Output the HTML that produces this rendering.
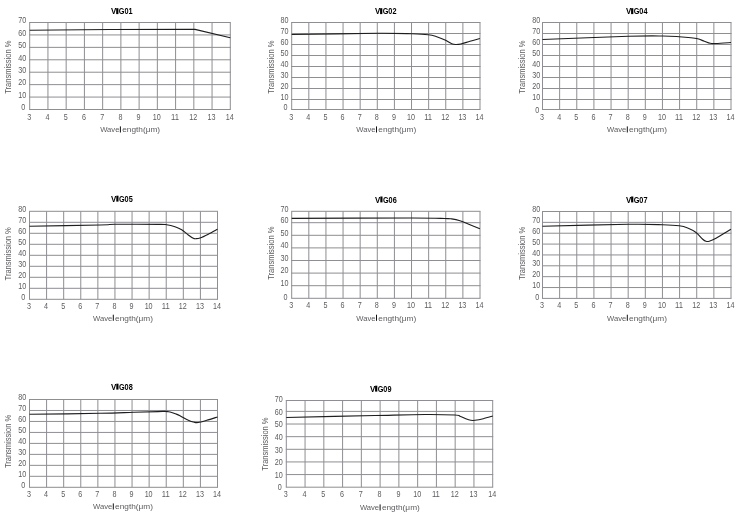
<!DOCTYPE html>
<html><head><meta charset="utf-8"><title>Transmission curves</title>
<style>
html,body{margin:0;padding:0;background:#fff;}
body{width:745px;height:528px;overflow:hidden;font-family:"Liberation Sans",sans-serif;}
svg{display:block;will-change:transform;}
text{font-family:"Liberation Sans",sans-serif;}
.g{stroke:#8e8e93;stroke-width:1;fill:none;}
.c{stroke:#1e1e1e;stroke-width:1.15;fill:none;stroke-linejoin:round;stroke-linecap:butt;}
.t{font-size:8.3px;fill:#5c5c60;}
.x{font-size:8px;fill:#5c5c60;}
.y{font-size:8.3px;fill:#5c5c60;}
.h{font-size:8.6px;font-weight:bold;fill:#000;}
</style></head><body>
<svg width="745" height="528" viewBox="0 0 745 528">
<rect width="745" height="528" fill="#fff"/>

<g><!-- VIG01 -->
<path class="g" d="M29.20 109.50 H230.80 M29.20 97.07 H230.80 M29.20 84.64 H230.80 M29.20 72.21 H230.80 M29.20 59.79 H230.80 M29.20 47.36 H230.80 M29.20 34.93 H230.80 M29.20 22.50 H230.80 M29.70 22.50 V109.50 M47.94 22.50 V109.50 M66.17 22.50 V109.50 M84.41 22.50 V109.50 M102.65 22.50 V109.50 M120.88 22.50 V109.50 M139.12 22.50 V109.50 M157.35 22.50 V109.50 M175.59 22.50 V109.50 M193.83 22.50 V109.50 M212.06 22.50 V109.50 M230.30 22.50 V109.50"/>
<path class="c" d="M29.70 30.30 L110.00 29.50 L190.00 29.30 L195.00 29.40 L230.30 37.70"/>
<text class="t" text-anchor="end" textLength="4.00" lengthAdjust="spacingAndGlyphs" x="25.30" y="110.25">0</text>
<text class="t" text-anchor="end" textLength="8.00" lengthAdjust="spacingAndGlyphs" x="26.20" y="97.82">10</text>
<text class="t" text-anchor="end" textLength="8.00" lengthAdjust="spacingAndGlyphs" x="26.20" y="85.39">20</text>
<text class="t" text-anchor="end" textLength="8.00" lengthAdjust="spacingAndGlyphs" x="26.20" y="72.96">30</text>
<text class="t" text-anchor="end" textLength="8.00" lengthAdjust="spacingAndGlyphs" x="26.20" y="60.54">40</text>
<text class="t" text-anchor="end" textLength="8.00" lengthAdjust="spacingAndGlyphs" x="26.20" y="48.11">50</text>
<text class="t" text-anchor="end" textLength="8.00" lengthAdjust="spacingAndGlyphs" x="26.20" y="35.68">60</text>
<text class="t" text-anchor="end" textLength="8.00" lengthAdjust="spacingAndGlyphs" x="26.20" y="23.25">70</text>
<text class="t" text-anchor="middle" textLength="4.00" lengthAdjust="spacingAndGlyphs" x="29.20" y="120.25">3</text>
<text class="t" text-anchor="middle" textLength="4.00" lengthAdjust="spacingAndGlyphs" x="47.44" y="120.25">4</text>
<text class="t" text-anchor="middle" textLength="4.00" lengthAdjust="spacingAndGlyphs" x="65.67" y="120.25">5</text>
<text class="t" text-anchor="middle" textLength="4.00" lengthAdjust="spacingAndGlyphs" x="83.91" y="120.25">6</text>
<text class="t" text-anchor="middle" textLength="4.00" lengthAdjust="spacingAndGlyphs" x="102.15" y="120.25">7</text>
<text class="t" text-anchor="middle" textLength="4.00" lengthAdjust="spacingAndGlyphs" x="120.38" y="120.25">8</text>
<text class="t" text-anchor="middle" textLength="4.00" lengthAdjust="spacingAndGlyphs" x="138.62" y="120.25">9</text>
<text class="t" text-anchor="middle" textLength="8.00" lengthAdjust="spacingAndGlyphs" x="156.85" y="120.25">10</text>
<text class="t" text-anchor="middle" textLength="8.00" lengthAdjust="spacingAndGlyphs" x="175.09" y="120.25">11</text>
<text class="t" text-anchor="middle" textLength="8.00" lengthAdjust="spacingAndGlyphs" x="193.33" y="120.25">12</text>
<text class="t" text-anchor="middle" textLength="8.00" lengthAdjust="spacingAndGlyphs" x="211.56" y="120.25">13</text>
<text class="t" text-anchor="middle" textLength="8.00" lengthAdjust="spacingAndGlyphs" x="229.80" y="120.25">14</text>
<text class="h" text-anchor="end" textLength="5.3" lengthAdjust="spacingAndGlyphs" x="116.30" y="14.20">V</text>
<text class="h" textLength="13.8" lengthAdjust="spacingAndGlyphs" x="118.80" y="14.20">G01</text>
<text class="x" textLength="19.2" lengthAdjust="spacingAndGlyphs" x="100.20" y="132.20">Wave</text>
<text class="x" textLength="37.9" lengthAdjust="spacingAndGlyphs" x="122.20" y="132.20">ength(μm)</text>
<rect x="119.90" y="126.40" width="1.0" height="6.1" fill="#111"/>
<rect x="116.20" y="8.20" width="2.2" height="5.9" fill="#000"/>
<text class="y" text-anchor="middle" textLength="53.2" lengthAdjust="spacingAndGlyphs" transform="translate(11.00 67.20) rotate(-90)" x="0" y="0">Transmission %</text>
</g>
<g><!-- VIG02 -->
<path class="g" d="M291.20 109.50 H480.50 M291.20 99.50 H480.50 M291.20 88.50 H480.50 M291.20 77.50 H480.50 M291.20 66.50 H480.50 M291.20 55.50 H480.50 M291.20 44.50 H480.50 M291.20 33.50 H480.50 M291.20 22.50 H480.50 M291.70 22.50 V109.50 M308.82 22.50 V109.50 M325.94 22.50 V109.50 M343.05 22.50 V109.50 M360.17 22.50 V109.50 M377.29 22.50 V109.50 M394.41 22.50 V109.50 M411.53 22.50 V109.50 M428.65 22.50 V109.50 M445.76 22.50 V109.50 M462.88 22.50 V109.50 M480.00 22.50 V109.50"/>
<path class="c" d="M291.70 34.50 C306.03 34.30 357.70 33.42 377.70 33.30 C397.70 33.18 403.27 33.57 411.70 33.80 C420.13 34.03 424.13 34.22 428.30 34.70 C432.47 35.18 433.92 35.82 436.70 36.70 C439.48 37.58 442.50 38.83 445.00 40.00 C447.50 41.17 449.90 42.95 451.70 43.70 C453.50 44.45 454.28 44.45 455.80 44.50 C457.32 44.55 458.43 44.53 460.80 44.00 C463.17 43.47 466.82 42.22 470.00 41.30 C473.18 40.38 478.25 38.97 479.90 38.50"/>
<text class="t" text-anchor="end" textLength="4.00" lengthAdjust="spacingAndGlyphs" x="287.60" y="109.85">0</text>
<text class="t" text-anchor="end" textLength="8.00" lengthAdjust="spacingAndGlyphs" x="288.50" y="99.85">10</text>
<text class="t" text-anchor="end" textLength="8.00" lengthAdjust="spacingAndGlyphs" x="288.50" y="88.85">20</text>
<text class="t" text-anchor="end" textLength="8.00" lengthAdjust="spacingAndGlyphs" x="288.50" y="77.85">30</text>
<text class="t" text-anchor="end" textLength="8.00" lengthAdjust="spacingAndGlyphs" x="288.50" y="66.85">40</text>
<text class="t" text-anchor="end" textLength="8.00" lengthAdjust="spacingAndGlyphs" x="288.50" y="55.85">50</text>
<text class="t" text-anchor="end" textLength="8.00" lengthAdjust="spacingAndGlyphs" x="288.50" y="44.85">60</text>
<text class="t" text-anchor="end" textLength="8.00" lengthAdjust="spacingAndGlyphs" x="288.50" y="33.85">70</text>
<text class="t" text-anchor="end" textLength="8.00" lengthAdjust="spacingAndGlyphs" x="288.50" y="22.85">80</text>
<text class="t" text-anchor="middle" textLength="4.00" lengthAdjust="spacingAndGlyphs" x="291.20" y="120.25">3</text>
<text class="t" text-anchor="middle" textLength="4.00" lengthAdjust="spacingAndGlyphs" x="308.32" y="120.25">4</text>
<text class="t" text-anchor="middle" textLength="4.00" lengthAdjust="spacingAndGlyphs" x="325.44" y="120.25">5</text>
<text class="t" text-anchor="middle" textLength="4.00" lengthAdjust="spacingAndGlyphs" x="342.55" y="120.25">6</text>
<text class="t" text-anchor="middle" textLength="4.00" lengthAdjust="spacingAndGlyphs" x="359.67" y="120.25">7</text>
<text class="t" text-anchor="middle" textLength="4.00" lengthAdjust="spacingAndGlyphs" x="376.79" y="120.25">8</text>
<text class="t" text-anchor="middle" textLength="4.00" lengthAdjust="spacingAndGlyphs" x="393.91" y="120.25">9</text>
<text class="t" text-anchor="middle" textLength="8.00" lengthAdjust="spacingAndGlyphs" x="411.03" y="120.25">10</text>
<text class="t" text-anchor="middle" textLength="8.00" lengthAdjust="spacingAndGlyphs" x="428.15" y="120.25">11</text>
<text class="t" text-anchor="middle" textLength="8.00" lengthAdjust="spacingAndGlyphs" x="445.26" y="120.25">12</text>
<text class="t" text-anchor="middle" textLength="8.00" lengthAdjust="spacingAndGlyphs" x="462.38" y="120.25">13</text>
<text class="t" text-anchor="middle" textLength="8.00" lengthAdjust="spacingAndGlyphs" x="479.50" y="120.25">14</text>
<text class="h" text-anchor="end" textLength="5.3" lengthAdjust="spacingAndGlyphs" x="380.20" y="14.20">V</text>
<text class="h" textLength="13.8" lengthAdjust="spacingAndGlyphs" x="382.70" y="14.20">G02</text>
<text class="x" textLength="19.2" lengthAdjust="spacingAndGlyphs" x="356.30" y="132.20">Wave</text>
<text class="x" textLength="37.9" lengthAdjust="spacingAndGlyphs" x="378.30" y="132.20">ength(μm)</text>
<rect x="376.00" y="126.40" width="1.0" height="6.1" fill="#111"/>
<rect x="380.10" y="8.20" width="2.2" height="5.9" fill="#000"/>
<text class="y" text-anchor="middle" textLength="53.2" lengthAdjust="spacingAndGlyphs" transform="translate(273.50 67.20) rotate(-90)" x="0" y="0">Transmission %</text>
</g>
<g><!-- VIG04 -->
<path class="g" d="M542.00 109.50 H731.50 M542.00 99.50 H731.50 M542.00 88.50 H731.50 M542.00 77.50 H731.50 M542.00 66.50 H731.50 M542.00 55.50 H731.50 M542.00 44.50 H731.50 M542.00 33.50 H731.50 M542.00 22.50 H731.50 M542.50 22.50 V109.50 M559.64 22.50 V109.50 M576.77 22.50 V109.50 M593.91 22.50 V109.50 M611.05 22.50 V109.50 M628.18 22.50 V109.50 M645.32 22.50 V109.50 M662.45 22.50 V109.50 M679.59 22.50 V109.50 M696.73 22.50 V109.50 M713.86 22.50 V109.50 M731.00 22.50 V109.50"/>
<path class="c" d="M542.50 39.50 C556.83 38.97 608.47 36.88 628.50 36.30 C648.53 35.72 654.23 35.93 662.70 36.00 C671.17 36.07 674.58 36.42 679.30 36.70 C684.02 36.98 687.93 37.35 691.00 37.70 C694.07 38.05 695.48 38.22 697.70 38.80 C699.92 39.38 702.22 40.45 704.30 41.20 C706.38 41.95 708.25 42.92 710.20 43.30 C712.15 43.68 712.53 43.63 716.00 43.50 C719.47 43.37 728.50 42.67 731.00 42.50"/>
<text class="t" text-anchor="end" textLength="4.00" lengthAdjust="spacingAndGlyphs" x="539.30" y="112.95">0</text>
<text class="t" text-anchor="end" textLength="8.00" lengthAdjust="spacingAndGlyphs" x="540.20" y="99.75">10</text>
<text class="t" text-anchor="end" textLength="8.00" lengthAdjust="spacingAndGlyphs" x="540.20" y="88.75">20</text>
<text class="t" text-anchor="end" textLength="8.00" lengthAdjust="spacingAndGlyphs" x="540.20" y="77.75">30</text>
<text class="t" text-anchor="end" textLength="8.00" lengthAdjust="spacingAndGlyphs" x="540.20" y="66.75">40</text>
<text class="t" text-anchor="end" textLength="8.00" lengthAdjust="spacingAndGlyphs" x="540.20" y="55.75">50</text>
<text class="t" text-anchor="end" textLength="8.00" lengthAdjust="spacingAndGlyphs" x="540.20" y="44.75">60</text>
<text class="t" text-anchor="end" textLength="8.00" lengthAdjust="spacingAndGlyphs" x="540.20" y="33.75">70</text>
<text class="t" text-anchor="end" textLength="8.00" lengthAdjust="spacingAndGlyphs" x="540.20" y="22.75">80</text>
<text class="t" text-anchor="middle" textLength="4.00" lengthAdjust="spacingAndGlyphs" x="542.00" y="120.25">3</text>
<text class="t" text-anchor="middle" textLength="4.00" lengthAdjust="spacingAndGlyphs" x="559.14" y="120.25">4</text>
<text class="t" text-anchor="middle" textLength="4.00" lengthAdjust="spacingAndGlyphs" x="576.27" y="120.25">5</text>
<text class="t" text-anchor="middle" textLength="4.00" lengthAdjust="spacingAndGlyphs" x="593.41" y="120.25">6</text>
<text class="t" text-anchor="middle" textLength="4.00" lengthAdjust="spacingAndGlyphs" x="610.55" y="120.25">7</text>
<text class="t" text-anchor="middle" textLength="4.00" lengthAdjust="spacingAndGlyphs" x="627.68" y="120.25">8</text>
<text class="t" text-anchor="middle" textLength="4.00" lengthAdjust="spacingAndGlyphs" x="644.82" y="120.25">9</text>
<text class="t" text-anchor="middle" textLength="8.00" lengthAdjust="spacingAndGlyphs" x="661.95" y="120.25">10</text>
<text class="t" text-anchor="middle" textLength="8.00" lengthAdjust="spacingAndGlyphs" x="679.09" y="120.25">11</text>
<text class="t" text-anchor="middle" textLength="8.00" lengthAdjust="spacingAndGlyphs" x="696.23" y="120.25">12</text>
<text class="t" text-anchor="middle" textLength="8.00" lengthAdjust="spacingAndGlyphs" x="713.36" y="120.25">13</text>
<text class="t" text-anchor="middle" textLength="8.00" lengthAdjust="spacingAndGlyphs" x="730.50" y="120.25">14</text>
<text class="h" text-anchor="end" textLength="5.3" lengthAdjust="spacingAndGlyphs" x="631.20" y="14.20">V</text>
<text class="h" textLength="13.8" lengthAdjust="spacingAndGlyphs" x="633.70" y="14.20">G04</text>
<text class="x" textLength="19.2" lengthAdjust="spacingAndGlyphs" x="607.10" y="132.20">Wave</text>
<text class="x" textLength="37.9" lengthAdjust="spacingAndGlyphs" x="629.10" y="132.20">ength(μm)</text>
<rect x="626.80" y="126.40" width="1.0" height="6.1" fill="#111"/>
<rect x="631.10" y="8.20" width="2.2" height="5.9" fill="#000"/>
<text class="y" text-anchor="middle" textLength="53.2" lengthAdjust="spacingAndGlyphs" transform="translate(524.50 67.20) rotate(-90)" x="0" y="0">Transmission %</text>
</g>
<g><!-- VIG05 -->
<path class="g" d="M29.00 299.30 H218.00 M29.00 288.30 H218.00 M29.00 277.30 H218.00 M29.00 266.30 H218.00 M29.00 255.30 H218.00 M29.00 244.30 H218.00 M29.00 233.30 H218.00 M29.00 222.30 H218.00 M29.00 211.30 H218.00 M29.50 211.30 V299.30 M46.59 211.30 V299.30 M63.68 211.30 V299.30 M80.77 211.30 V299.30 M97.86 211.30 V299.30 M114.95 211.30 V299.30 M132.05 211.30 V299.30 M149.14 211.30 V299.30 M166.23 211.30 V299.30 M183.32 211.30 V299.30 M200.41 211.30 V299.30 M217.50 211.30 V299.30"/>
<path class="c" d="M29.50 226.30 C41.25 226.08 85.75 225.33 100.00 225.00 C114.25 224.67 105.28 224.42 115.00 224.30 C124.72 224.18 149.68 224.23 158.30 224.30 C166.92 224.37 163.92 224.30 166.70 224.70 C169.48 225.10 172.50 225.87 175.00 226.70 C177.50 227.53 179.48 228.32 181.70 229.70 C183.92 231.08 186.37 233.57 188.30 235.00 C190.23 236.43 192.05 237.68 193.30 238.30 C194.55 238.92 194.68 238.75 195.80 238.70 C196.92 238.65 197.92 238.75 200.00 238.00 C202.08 237.25 205.38 235.67 208.30 234.20 C211.22 232.73 215.97 230.03 217.50 229.20"/>
<text class="t" text-anchor="end" textLength="4.00" lengthAdjust="spacingAndGlyphs" x="25.30" y="300.35">0</text>
<text class="t" text-anchor="end" textLength="8.00" lengthAdjust="spacingAndGlyphs" x="26.20" y="289.35">10</text>
<text class="t" text-anchor="end" textLength="8.00" lengthAdjust="spacingAndGlyphs" x="26.20" y="278.35">20</text>
<text class="t" text-anchor="end" textLength="8.00" lengthAdjust="spacingAndGlyphs" x="26.20" y="267.35">30</text>
<text class="t" text-anchor="end" textLength="8.00" lengthAdjust="spacingAndGlyphs" x="26.20" y="256.35">40</text>
<text class="t" text-anchor="end" textLength="8.00" lengthAdjust="spacingAndGlyphs" x="26.20" y="245.35">50</text>
<text class="t" text-anchor="end" textLength="8.00" lengthAdjust="spacingAndGlyphs" x="26.20" y="234.35">60</text>
<text class="t" text-anchor="end" textLength="8.00" lengthAdjust="spacingAndGlyphs" x="26.20" y="223.35">70</text>
<text class="t" text-anchor="end" textLength="8.00" lengthAdjust="spacingAndGlyphs" x="26.20" y="212.35">80</text>
<text class="t" text-anchor="middle" textLength="4.00" lengthAdjust="spacingAndGlyphs" x="29.00" y="309.15">3</text>
<text class="t" text-anchor="middle" textLength="4.00" lengthAdjust="spacingAndGlyphs" x="46.09" y="309.15">4</text>
<text class="t" text-anchor="middle" textLength="4.00" lengthAdjust="spacingAndGlyphs" x="63.18" y="309.15">5</text>
<text class="t" text-anchor="middle" textLength="4.00" lengthAdjust="spacingAndGlyphs" x="80.27" y="309.15">6</text>
<text class="t" text-anchor="middle" textLength="4.00" lengthAdjust="spacingAndGlyphs" x="97.36" y="309.15">7</text>
<text class="t" text-anchor="middle" textLength="4.00" lengthAdjust="spacingAndGlyphs" x="114.45" y="309.15">8</text>
<text class="t" text-anchor="middle" textLength="4.00" lengthAdjust="spacingAndGlyphs" x="131.55" y="309.15">9</text>
<text class="t" text-anchor="middle" textLength="8.00" lengthAdjust="spacingAndGlyphs" x="148.64" y="309.15">10</text>
<text class="t" text-anchor="middle" textLength="8.00" lengthAdjust="spacingAndGlyphs" x="165.73" y="309.15">11</text>
<text class="t" text-anchor="middle" textLength="8.00" lengthAdjust="spacingAndGlyphs" x="182.82" y="309.15">12</text>
<text class="t" text-anchor="middle" textLength="8.00" lengthAdjust="spacingAndGlyphs" x="199.91" y="309.15">13</text>
<text class="t" text-anchor="middle" textLength="8.00" lengthAdjust="spacingAndGlyphs" x="217.00" y="309.15">14</text>
<text class="h" text-anchor="end" textLength="5.3" lengthAdjust="spacingAndGlyphs" x="116.40" y="201.70">V</text>
<text class="h" textLength="13.8" lengthAdjust="spacingAndGlyphs" x="118.90" y="201.70">G05</text>
<text class="x" textLength="19.2" lengthAdjust="spacingAndGlyphs" x="93.10" y="320.50">Wave</text>
<text class="x" textLength="37.9" lengthAdjust="spacingAndGlyphs" x="115.10" y="320.50">ength(μm)</text>
<rect x="112.80" y="314.70" width="1.0" height="6.1" fill="#111"/>
<rect x="116.30" y="195.70" width="2.2" height="5.9" fill="#000"/>
<text class="y" text-anchor="middle" textLength="53.2" lengthAdjust="spacingAndGlyphs" transform="translate(11.00 253.80) rotate(-90)" x="0" y="0">Transmission %</text>
</g>
<g><!-- VIG06 -->
<path class="g" d="M291.20 211.30 H480.50 M291.20 298.30 H480.50 M291.20 285.70 H480.50 M291.20 273.10 H480.50 M291.20 260.50 H480.50 M291.20 247.90 H480.50 M291.20 235.30 H480.50 M291.20 222.70 H480.50 M291.70 211.30 V298.30 M308.82 211.30 V298.30 M325.94 211.30 V298.30 M343.05 211.30 V298.30 M360.17 211.30 V298.30 M377.29 211.30 V298.30 M394.41 211.30 V298.30 M411.53 211.30 V298.30 M428.65 211.30 V298.30 M445.76 211.30 V298.30 M462.88 211.30 V298.30 M480.00 211.30 V298.30"/>
<path class="c" d="M291.70 218.30 C311.70 218.25 386.15 217.97 411.70 218.00 C437.25 218.03 438.33 218.35 445.00 218.50 C451.67 218.65 449.20 218.52 451.70 218.90 C454.20 219.28 456.95 219.83 460.00 220.80 C463.05 221.77 466.68 223.38 470.00 224.70 C473.32 226.02 478.25 228.03 479.90 228.70"/>
<text class="t" text-anchor="end" textLength="8.00" lengthAdjust="spacingAndGlyphs" x="288.50" y="212.30">70</text>
<text class="t" text-anchor="end" textLength="4.00" lengthAdjust="spacingAndGlyphs" x="287.60" y="299.65">0</text>
<text class="t" text-anchor="end" textLength="8.00" lengthAdjust="spacingAndGlyphs" x="288.50" y="286.05">10</text>
<text class="t" text-anchor="end" textLength="8.00" lengthAdjust="spacingAndGlyphs" x="288.50" y="273.45">20</text>
<text class="t" text-anchor="end" textLength="8.00" lengthAdjust="spacingAndGlyphs" x="288.50" y="260.85">30</text>
<text class="t" text-anchor="end" textLength="8.00" lengthAdjust="spacingAndGlyphs" x="288.50" y="248.25">40</text>
<text class="t" text-anchor="end" textLength="8.00" lengthAdjust="spacingAndGlyphs" x="288.50" y="235.65">50</text>
<text class="t" text-anchor="end" textLength="8.00" lengthAdjust="spacingAndGlyphs" x="288.50" y="223.05">60</text>
<text class="t" text-anchor="middle" textLength="4.00" lengthAdjust="spacingAndGlyphs" x="291.20" y="308.45">3</text>
<text class="t" text-anchor="middle" textLength="4.00" lengthAdjust="spacingAndGlyphs" x="308.32" y="308.45">4</text>
<text class="t" text-anchor="middle" textLength="4.00" lengthAdjust="spacingAndGlyphs" x="325.44" y="308.45">5</text>
<text class="t" text-anchor="middle" textLength="4.00" lengthAdjust="spacingAndGlyphs" x="342.55" y="308.45">6</text>
<text class="t" text-anchor="middle" textLength="4.00" lengthAdjust="spacingAndGlyphs" x="359.67" y="308.45">7</text>
<text class="t" text-anchor="middle" textLength="4.00" lengthAdjust="spacingAndGlyphs" x="376.79" y="308.45">8</text>
<text class="t" text-anchor="middle" textLength="4.00" lengthAdjust="spacingAndGlyphs" x="393.91" y="308.45">9</text>
<text class="t" text-anchor="middle" textLength="8.00" lengthAdjust="spacingAndGlyphs" x="411.03" y="308.45">10</text>
<text class="t" text-anchor="middle" textLength="8.00" lengthAdjust="spacingAndGlyphs" x="428.15" y="308.45">11</text>
<text class="t" text-anchor="middle" textLength="8.00" lengthAdjust="spacingAndGlyphs" x="445.26" y="308.45">12</text>
<text class="t" text-anchor="middle" textLength="8.00" lengthAdjust="spacingAndGlyphs" x="462.38" y="308.45">13</text>
<text class="t" text-anchor="middle" textLength="8.00" lengthAdjust="spacingAndGlyphs" x="479.50" y="308.45">14</text>
<text class="h" text-anchor="end" textLength="5.3" lengthAdjust="spacingAndGlyphs" x="380.40" y="202.50">V</text>
<text class="h" textLength="13.8" lengthAdjust="spacingAndGlyphs" x="382.90" y="202.50">G06</text>
<text class="x" textLength="19.2" lengthAdjust="spacingAndGlyphs" x="356.30" y="320.50">Wave</text>
<text class="x" textLength="37.9" lengthAdjust="spacingAndGlyphs" x="378.30" y="320.50">ength(μm)</text>
<rect x="376.00" y="314.70" width="1.0" height="6.1" fill="#111"/>
<rect x="380.30" y="196.50" width="2.2" height="5.9" fill="#000"/>
<text class="y" text-anchor="middle" textLength="53.2" lengthAdjust="spacingAndGlyphs" transform="translate(273.50 253.20) rotate(-90)" x="0" y="0">Transmission %</text>
</g>
<g><!-- VIG07 -->
<path class="g" d="M542.00 298.40 H731.50 M542.00 287.54 H731.50 M542.00 276.67 H731.50 M542.00 265.81 H731.50 M542.00 254.95 H731.50 M542.00 244.09 H731.50 M542.00 233.22 H731.50 M542.00 222.36 H731.50 M542.00 211.50 H731.50 M542.50 211.50 V298.40 M559.64 211.50 V298.40 M576.77 211.50 V298.40 M593.91 211.50 V298.40 M611.05 211.50 V298.40 M628.18 211.50 V298.40 M645.32 211.50 V298.40 M662.45 211.50 V298.40 M679.59 211.50 V298.40 M696.73 211.50 V298.40 M713.86 211.50 V298.40 M731.00 211.50 V298.40"/>
<path class="c" d="M542.50 226.20 C556.87 225.88 608.67 224.55 628.70 224.30 C648.73 224.05 654.27 224.45 662.70 224.70 C671.13 224.95 675.13 225.25 679.30 225.80 C683.47 226.35 684.92 226.88 687.70 228.00 C690.48 229.12 693.50 230.63 696.00 232.50 C698.50 234.37 701.03 237.73 702.70 239.20 C704.37 240.67 704.90 240.97 706.00 241.30 C707.10 241.63 707.63 241.70 709.30 241.20 C710.97 240.70 713.50 239.62 716.00 238.30 C718.50 236.98 721.82 234.82 724.30 233.30 C726.78 231.78 729.80 229.88 730.90 229.20"/>
<text class="t" text-anchor="end" textLength="4.00" lengthAdjust="spacingAndGlyphs" x="539.30" y="300.25">0</text>
<text class="t" text-anchor="end" textLength="8.00" lengthAdjust="spacingAndGlyphs" x="540.20" y="288.19">10</text>
<text class="t" text-anchor="end" textLength="8.00" lengthAdjust="spacingAndGlyphs" x="540.20" y="277.32">20</text>
<text class="t" text-anchor="end" textLength="8.00" lengthAdjust="spacingAndGlyphs" x="540.20" y="266.46">30</text>
<text class="t" text-anchor="end" textLength="8.00" lengthAdjust="spacingAndGlyphs" x="540.20" y="255.60">40</text>
<text class="t" text-anchor="end" textLength="8.00" lengthAdjust="spacingAndGlyphs" x="540.20" y="244.74">50</text>
<text class="t" text-anchor="end" textLength="8.00" lengthAdjust="spacingAndGlyphs" x="540.20" y="233.87">60</text>
<text class="t" text-anchor="end" textLength="8.00" lengthAdjust="spacingAndGlyphs" x="540.20" y="223.01">70</text>
<text class="t" text-anchor="end" textLength="8.00" lengthAdjust="spacingAndGlyphs" x="540.20" y="212.15">80</text>
<text class="t" text-anchor="middle" textLength="4.00" lengthAdjust="spacingAndGlyphs" x="542.00" y="308.45">3</text>
<text class="t" text-anchor="middle" textLength="4.00" lengthAdjust="spacingAndGlyphs" x="559.14" y="308.45">4</text>
<text class="t" text-anchor="middle" textLength="4.00" lengthAdjust="spacingAndGlyphs" x="576.27" y="308.45">5</text>
<text class="t" text-anchor="middle" textLength="4.00" lengthAdjust="spacingAndGlyphs" x="593.41" y="308.45">6</text>
<text class="t" text-anchor="middle" textLength="4.00" lengthAdjust="spacingAndGlyphs" x="610.55" y="308.45">7</text>
<text class="t" text-anchor="middle" textLength="4.00" lengthAdjust="spacingAndGlyphs" x="627.68" y="308.45">8</text>
<text class="t" text-anchor="middle" textLength="4.00" lengthAdjust="spacingAndGlyphs" x="644.82" y="308.45">9</text>
<text class="t" text-anchor="middle" textLength="8.00" lengthAdjust="spacingAndGlyphs" x="661.95" y="308.45">10</text>
<text class="t" text-anchor="middle" textLength="8.00" lengthAdjust="spacingAndGlyphs" x="679.09" y="308.45">11</text>
<text class="t" text-anchor="middle" textLength="8.00" lengthAdjust="spacingAndGlyphs" x="696.23" y="308.45">12</text>
<text class="t" text-anchor="middle" textLength="8.00" lengthAdjust="spacingAndGlyphs" x="713.36" y="308.45">13</text>
<text class="t" text-anchor="middle" textLength="8.00" lengthAdjust="spacingAndGlyphs" x="730.50" y="308.45">14</text>
<text class="h" text-anchor="end" textLength="5.3" lengthAdjust="spacingAndGlyphs" x="631.20" y="202.50">V</text>
<text class="h" textLength="13.8" lengthAdjust="spacingAndGlyphs" x="633.70" y="202.50">G07</text>
<text class="x" textLength="19.2" lengthAdjust="spacingAndGlyphs" x="607.10" y="320.50">Wave</text>
<text class="x" textLength="37.9" lengthAdjust="spacingAndGlyphs" x="629.10" y="320.50">ength(μm)</text>
<rect x="626.80" y="314.70" width="1.0" height="6.1" fill="#111"/>
<rect x="631.10" y="196.50" width="2.2" height="5.9" fill="#000"/>
<text class="y" text-anchor="middle" textLength="53.2" lengthAdjust="spacingAndGlyphs" transform="translate(524.50 253.35) rotate(-90)" x="0" y="0">Transmission %</text>
</g>
<g><!-- VIG08 -->
<path class="g" d="M29.00 487.30 H218.00 M29.00 476.32 H218.00 M29.00 465.35 H218.00 M29.00 454.38 H218.00 M29.00 443.40 H218.00 M29.00 432.43 H218.00 M29.00 421.45 H218.00 M29.00 410.48 H218.00 M29.00 399.50 H218.00 M29.50 399.50 V487.30 M46.59 399.50 V487.30 M63.68 399.50 V487.30 M80.77 399.50 V487.30 M97.86 399.50 V487.30 M114.95 399.50 V487.30 M132.05 399.50 V487.30 M149.14 399.50 V487.30 M166.23 399.50 V487.30 M183.32 399.50 V487.30 M200.41 399.50 V487.30 M217.50 399.50 V487.30"/>
<path class="c" d="M29.50 414.30 C41.25 414.13 82.70 413.63 100.00 413.30 C117.30 412.97 123.63 412.58 133.30 412.30 C142.97 412.02 152.72 411.75 158.00 411.60 C163.28 411.45 163.25 411.38 165.00 411.40 C166.75 411.42 167.38 411.57 168.50 411.75 C169.62 411.93 170.45 412.12 171.70 412.50 C172.95 412.88 174.62 413.45 176.00 414.00 C177.38 414.55 177.95 414.75 180.00 415.80 C182.05 416.85 185.93 419.22 188.30 420.30 C190.67 421.38 192.53 421.93 194.20 422.30 C195.87 422.67 196.22 422.83 198.30 422.50 C200.38 422.17 203.50 421.22 206.70 420.30 C209.90 419.38 215.70 417.55 217.50 417.00"/>
<text class="t" text-anchor="end" textLength="4.00" lengthAdjust="spacingAndGlyphs" x="25.30" y="487.95">0</text>
<text class="t" text-anchor="end" textLength="8.00" lengthAdjust="spacingAndGlyphs" x="26.20" y="476.97">10</text>
<text class="t" text-anchor="end" textLength="8.00" lengthAdjust="spacingAndGlyphs" x="26.20" y="466.00">20</text>
<text class="t" text-anchor="end" textLength="8.00" lengthAdjust="spacingAndGlyphs" x="26.20" y="455.02">30</text>
<text class="t" text-anchor="end" textLength="8.00" lengthAdjust="spacingAndGlyphs" x="26.20" y="444.05">40</text>
<text class="t" text-anchor="end" textLength="8.00" lengthAdjust="spacingAndGlyphs" x="26.20" y="433.07">50</text>
<text class="t" text-anchor="end" textLength="8.00" lengthAdjust="spacingAndGlyphs" x="26.20" y="422.10">60</text>
<text class="t" text-anchor="end" textLength="8.00" lengthAdjust="spacingAndGlyphs" x="26.20" y="411.12">70</text>
<text class="t" text-anchor="end" textLength="8.00" lengthAdjust="spacingAndGlyphs" x="26.20" y="400.15">80</text>
<text class="t" text-anchor="middle" textLength="4.00" lengthAdjust="spacingAndGlyphs" x="29.00" y="497.15">3</text>
<text class="t" text-anchor="middle" textLength="4.00" lengthAdjust="spacingAndGlyphs" x="46.09" y="497.15">4</text>
<text class="t" text-anchor="middle" textLength="4.00" lengthAdjust="spacingAndGlyphs" x="63.18" y="497.15">5</text>
<text class="t" text-anchor="middle" textLength="4.00" lengthAdjust="spacingAndGlyphs" x="80.27" y="497.15">6</text>
<text class="t" text-anchor="middle" textLength="4.00" lengthAdjust="spacingAndGlyphs" x="97.36" y="497.15">7</text>
<text class="t" text-anchor="middle" textLength="4.00" lengthAdjust="spacingAndGlyphs" x="114.45" y="497.15">8</text>
<text class="t" text-anchor="middle" textLength="4.00" lengthAdjust="spacingAndGlyphs" x="131.55" y="497.15">9</text>
<text class="t" text-anchor="middle" textLength="8.00" lengthAdjust="spacingAndGlyphs" x="148.64" y="497.15">10</text>
<text class="t" text-anchor="middle" textLength="8.00" lengthAdjust="spacingAndGlyphs" x="165.73" y="497.15">11</text>
<text class="t" text-anchor="middle" textLength="8.00" lengthAdjust="spacingAndGlyphs" x="182.82" y="497.15">12</text>
<text class="t" text-anchor="middle" textLength="8.00" lengthAdjust="spacingAndGlyphs" x="199.91" y="497.15">13</text>
<text class="t" text-anchor="middle" textLength="8.00" lengthAdjust="spacingAndGlyphs" x="217.00" y="497.15">14</text>
<text class="h" text-anchor="end" textLength="5.3" lengthAdjust="spacingAndGlyphs" x="116.40" y="389.70">V</text>
<text class="h" textLength="13.8" lengthAdjust="spacingAndGlyphs" x="118.90" y="389.70">G08</text>
<text class="x" textLength="19.2" lengthAdjust="spacingAndGlyphs" x="93.10" y="509.20">Wave</text>
<text class="x" textLength="37.9" lengthAdjust="spacingAndGlyphs" x="115.10" y="509.20">ength(μm)</text>
<rect x="112.80" y="503.40" width="1.0" height="6.1" fill="#111"/>
<rect x="116.30" y="383.70" width="2.2" height="5.9" fill="#000"/>
<text class="y" text-anchor="middle" textLength="53.2" lengthAdjust="spacingAndGlyphs" transform="translate(11.00 441.50) rotate(-90)" x="0" y="0">Transmission %</text>
</g>
<g><!-- VIG09 -->
<path class="g" d="M285.80 400.50 H493.20 M285.80 487.20 H493.20 M285.80 474.57 H493.20 M285.80 461.93 H493.20 M285.80 449.30 H493.20 M285.80 436.67 H493.20 M285.80 424.03 H493.20 M285.80 411.40 H493.20 M286.30 400.50 V487.20 M305.06 400.50 V487.20 M323.83 400.50 V487.20 M342.59 400.50 V487.20 M361.35 400.50 V487.20 M380.12 400.50 V487.20 M398.88 400.50 V487.20 M417.65 400.50 V487.20 M436.41 400.50 V487.20 M455.17 400.50 V487.20 M473.94 400.50 V487.20 M492.70 400.50 V487.20"/>
<path class="c" d="M286.30 417.50 C301.08 417.17 351.88 416.00 375.00 415.50 C398.12 415.00 411.67 414.58 425.00 414.50 C438.33 414.42 449.17 414.72 455.00 415.00 C460.83 415.28 458.20 415.57 460.00 416.20 C461.80 416.83 464.00 418.12 465.80 418.80 C467.60 419.48 469.27 420.05 470.80 420.30 C472.33 420.55 472.92 420.57 475.00 420.30 C477.08 420.03 480.33 419.42 483.30 418.70 C486.27 417.98 491.22 416.45 492.80 416.00"/>
<text class="t" text-anchor="end" textLength="8.00" lengthAdjust="spacingAndGlyphs" x="282.70" y="402.25">70</text>
<text class="t" text-anchor="end" textLength="4.00" lengthAdjust="spacingAndGlyphs" x="281.80" y="490.45">0</text>
<text class="t" text-anchor="end" textLength="8.00" lengthAdjust="spacingAndGlyphs" x="282.70" y="477.82">10</text>
<text class="t" text-anchor="end" textLength="8.00" lengthAdjust="spacingAndGlyphs" x="282.70" y="465.18">20</text>
<text class="t" text-anchor="end" textLength="8.00" lengthAdjust="spacingAndGlyphs" x="282.70" y="452.55">30</text>
<text class="t" text-anchor="end" textLength="8.00" lengthAdjust="spacingAndGlyphs" x="282.70" y="439.92">40</text>
<text class="t" text-anchor="end" textLength="8.00" lengthAdjust="spacingAndGlyphs" x="282.70" y="427.28">50</text>
<text class="t" text-anchor="end" textLength="8.00" lengthAdjust="spacingAndGlyphs" x="282.70" y="414.65">60</text>
<text class="t" text-anchor="middle" textLength="4.00" lengthAdjust="spacingAndGlyphs" x="285.80" y="497.15">3</text>
<text class="t" text-anchor="middle" textLength="4.00" lengthAdjust="spacingAndGlyphs" x="304.56" y="497.15">4</text>
<text class="t" text-anchor="middle" textLength="4.00" lengthAdjust="spacingAndGlyphs" x="323.33" y="497.15">5</text>
<text class="t" text-anchor="middle" textLength="4.00" lengthAdjust="spacingAndGlyphs" x="342.09" y="497.15">6</text>
<text class="t" text-anchor="middle" textLength="4.00" lengthAdjust="spacingAndGlyphs" x="360.85" y="497.15">7</text>
<text class="t" text-anchor="middle" textLength="4.00" lengthAdjust="spacingAndGlyphs" x="379.62" y="497.15">8</text>
<text class="t" text-anchor="middle" textLength="4.00" lengthAdjust="spacingAndGlyphs" x="398.38" y="497.15">9</text>
<text class="t" text-anchor="middle" textLength="8.00" lengthAdjust="spacingAndGlyphs" x="417.15" y="497.15">10</text>
<text class="t" text-anchor="middle" textLength="8.00" lengthAdjust="spacingAndGlyphs" x="435.91" y="497.15">11</text>
<text class="t" text-anchor="middle" textLength="8.00" lengthAdjust="spacingAndGlyphs" x="454.67" y="497.15">12</text>
<text class="t" text-anchor="middle" textLength="8.00" lengthAdjust="spacingAndGlyphs" x="473.44" y="497.15">13</text>
<text class="t" text-anchor="middle" textLength="8.00" lengthAdjust="spacingAndGlyphs" x="492.20" y="497.15">14</text>
<text class="h" text-anchor="end" textLength="5.3" lengthAdjust="spacingAndGlyphs" x="375.20" y="391.70">V</text>
<text class="h" textLength="13.8" lengthAdjust="spacingAndGlyphs" x="377.70" y="391.70">G09</text>
<text class="x" textLength="19.2" lengthAdjust="spacingAndGlyphs" x="359.90" y="510.20">Wave</text>
<text class="x" textLength="37.9" lengthAdjust="spacingAndGlyphs" x="381.90" y="510.20">ength(μm)</text>
<rect x="379.60" y="504.40" width="1.0" height="6.1" fill="#111"/>
<rect x="375.10" y="385.70" width="2.2" height="5.9" fill="#000"/>
<text class="y" text-anchor="middle" textLength="53.2" lengthAdjust="spacingAndGlyphs" transform="translate(267.70 444.05) rotate(-90)" x="0" y="0">Transmission %</text>
</g>
</svg></body></html>
